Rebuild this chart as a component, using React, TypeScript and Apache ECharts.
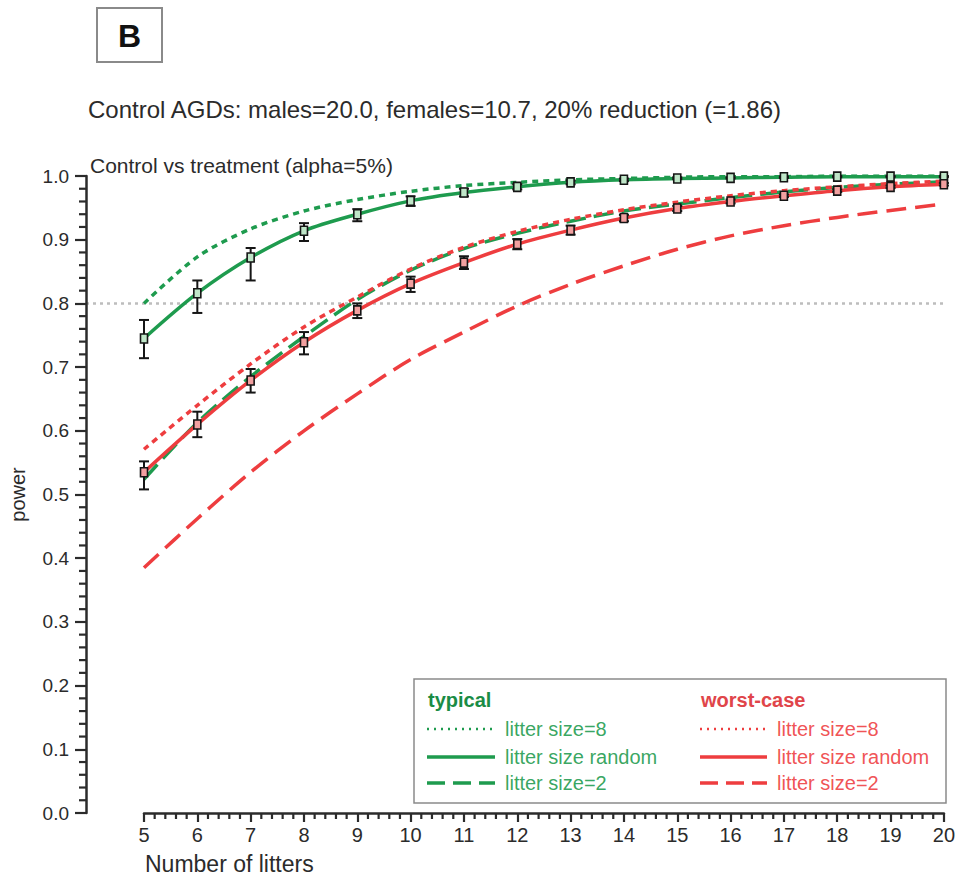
import React, { useEffect, useRef } from "react";
import * as echarts from "echarts";

const litters = [5, 6, 7, 8, 9, 10, 11, 12, 13, 14, 15, 16, 17, 18, 19, 20];
const typicalSize8 = [0.800, 0.873, 0.917, 0.945, 0.963, 0.976, 0.985, 0.990, 0.994, 0.996, 0.998, 0.999, 0.999, 1.000, 1.000, 1.000];
const typicalRandom = [0.745, 0.816, 0.872, 0.914, 0.940, 0.961, 0.974, 0.983, 0.990, 0.994, 0.996, 0.997, 0.998, 0.999, 0.999, 0.999];
const typicalRandomLow = [0.714, 0.785, 0.836, 0.898, 0.929, 0.953, 0.968, 0.979, 0.987, 0.992, 0.995, 0.996, 0.997, 0.998, 0.998, 0.998];
const typicalRandomHigh = [0.774, 0.836, 0.887, 0.926, 0.948, 0.968, 0.980, 0.987, 0.993, 0.996, 0.998, 0.998, 0.999, 1.000, 1.000, 1.000];
const typicalSize2 = [0.524, 0.613, 0.685, 0.748, 0.806, 0.852, 0.886, 0.910, 0.929, 0.945, 0.956, 0.966, 0.975, 0.982, 0.987, 0.991];
const worstSize8 = [0.571, 0.640, 0.705, 0.763, 0.810, 0.854, 0.888, 0.913, 0.932, 0.947, 0.959, 0.969, 0.977, 0.983, 0.988, 0.992];
const worstRandom = [0.535, 0.610, 0.679, 0.739, 0.789, 0.831, 0.864, 0.893, 0.915, 0.934, 0.949, 0.960, 0.969, 0.977, 0.983, 0.987];
const worstRandomLow = [0.508, 0.590, 0.660, 0.720, 0.777, 0.818, 0.854, 0.885, 0.908, 0.929, 0.945, 0.957, 0.967, 0.975, 0.981, 0.985];
const worstRandomHigh = [0.552, 0.630, 0.697, 0.755, 0.800, 0.842, 0.874, 0.901, 0.922, 0.939, 0.953, 0.963, 0.971, 0.979, 0.985, 0.989];
const worstSize2 = [0.385, 0.462, 0.535, 0.600, 0.658, 0.712, 0.755, 0.796, 0.830, 0.859, 0.885, 0.906, 0.922, 0.935, 0.946, 0.956];
const threshold = 0.8;

const yMajorStep = 0.1;
const yMinorPerMajor = 5;
const xMinorPerMajor = 5;

const panelLabel = "B";
const mainTitle = "Control AGDs: males=20.0, females=10.7, 20% reduction (=1.86)";
const subTitle = "Control vs treatment (alpha=5%)";
const xName = "Number of litters";
const yName = "power";
const legendHeaders = ["typical", "worst-case"];
const legendLabels = ["litter size=8", "litter size random", "litter size=2"];

const GREEN = "#1e9b4e";
const RED = "#ee3d3f";
const AXIS = "#2b2b2b";
const FONT = "'Liberation Sans', Arial, sans-serif";

const pairs = (ys: number[]) => litters.map((x, i) => [x, ys[i]]);
const bars = (ys: number[], lo: number[], hi: number[]) =>
  litters.map((x, i) => [x, ys[i], lo[i], hi[i]]);

// minor tick positions (axis structure, between the major ticks)
const yMinorTicks: number[] = [];
for (let m = 0; m < 10; m++) {
  for (let k = 1; k < yMinorPerMajor; k++) yMinorTicks.push(+(m * yMajorStep + (k * yMajorStep) / yMinorPerMajor).toFixed(4));
}
const xMinorTicks: number[] = [];
for (let m = 0; m < litters.length - 1; m++) {
  for (let k = 1; k < xMinorPerMajor; k++) xMinorTicks.push(+(litters[m] + k / xMinorPerMajor).toFixed(4));
}

function errorRender(fill: string) {
  return (params: any, api: any) => {
    const x = api.value(0);
    const p = api.coord([x, api.value(1)]);
    const pl = api.coord([x, api.value(2)]);
    const ph = api.coord([x, api.value(3)]);
    const cap = 5;
    const st = { stroke: "#151515", lineWidth: 2 };
    return {
      type: "group",
      children: [
        { type: "line", shape: { x1: p[0], y1: ph[1], x2: p[0], y2: pl[1] }, style: st },
        { type: "line", shape: { x1: p[0] - cap, y1: ph[1], x2: p[0] + cap, y2: ph[1] }, style: st },
        { type: "line", shape: { x1: p[0] - cap, y1: pl[1], x2: p[0] + cap, y2: pl[1] }, style: st },
        {
          type: "rect",
          shape: { x: p[0] - 3.5, y: p[1] - 4.5, width: 7, height: 9 },
          style: { fill, stroke: "#151515", lineWidth: 1.6 },
        },
      ],
    };
  };
}

function lineSeries(name: string, ys: number[], color: string, type: any) {
  return {
    name,
    type: "line",
    xAxisIndex: 1,
    yAxisIndex: 1,
    data: pairs(ys),
    symbol: "none",
    smooth: 0.3,
    lineStyle: { color, width: 3.5, type },
    z: 3,
  };
}

function legendGraphics() {
  const els: any[] = [];
  els.push({
    type: "rect",
    z: 100,
    shape: { x: 414, y: 679, width: 532, height: 124 },
    style: { fill: "#ffffff", stroke: "#8a8a8a", lineWidth: 1.5 },
  });
  const cols = [
    { x0: 427, x1: 495, tx: 505, color: GREEN, hc: "#1a8c45" },
    { x0: 700, x1: 767, tx: 777, color: RED, hc: "#e0454a" },
  ];
  const rows = [729, 757, 783];
  const dashes: any[] = [[2, 5], "solid", [18, 8]];
  const widths = [2.5, 3.5, 3.5];
  cols.forEach((c, ci) => {
    els.push({
      type: "text",
      z: 101,
      x: c.x0 + 1,
      y: 700,
      style: {
        text: legendHeaders[ci],
        fill: c.hc,
        font: `bold 20px ${FONT}`,
        align: "left",
        verticalAlign: "middle",
      },
    });
    rows.forEach((ry, ri) => {
      els.push({
        type: "line",
        z: 101,
        shape: { x1: c.x0, y1: ry, x2: c.x1, y2: ry },
        style: { stroke: c.color, lineWidth: widths[ri], lineDash: dashes[ri] === "solid" ? null : dashes[ri] },
      });
      els.push({
        type: "text",
        z: 101,
        x: c.tx,
        y: ry,
        style: {
          text: legendLabels[ri],
          fill: c.color,
          font: `20px ${FONT}`,
          align: "left",
          verticalAlign: "middle",
          opacity: 0.9,
        },
      });
    });
  });
  return els;
}

export default function App() {
  const ref = useRef<HTMLDivElement>(null);
  useEffect(() => {
    if (!ref.current) return;
    const chart = echarts.init(ref.current, null, { renderer: "svg" });
    const option: any = {
      animation: false,
      backgroundColor: "#ffffff",
      textStyle: { fontFamily: FONT },
      grid: [
        { left: 86, right: 12, top: 176, height: 637 },
        { left: 144, right: 12, top: 176, height: 637 },
      ],
      xAxis: [
        { gridIndex: 0, type: "value", min: 0, max: 1, show: false },
        {
          gridIndex: 1,
          type: "value",
          min: 5,
          max: 20,
          interval: 1,
          z: 4,
          axisLine: { onZero: false, lineStyle: { color: AXIS, width: 2.5 } },
          axisTick: { length: 9, lineStyle: { color: AXIS, width: 2.2 } },
          splitLine: { show: false },
          axisLabel: { fontSize: 20, color: AXIS, margin: 12, fontFamily: FONT },
        },
      ],
      yAxis: [
        {
          gridIndex: 0,
          type: "value",
          min: 0,
          max: 1,
          interval: yMajorStep,
          z: 4,
          name: yName,
          nameLocation: "middle",
          nameGap: 58,
          nameTextStyle: { fontSize: 20, color: AXIS, fontFamily: FONT },
          axisLine: { show: true, lineStyle: { color: AXIS, width: 2.5 } },
          axisTick: { show: true, length: 11, lineStyle: { color: AXIS, width: 2.2 } },
          splitLine: { show: false },
          axisLabel: {
            fontSize: 19,
            color: AXIS,
            margin: 17,
            fontFamily: FONT,
            formatter: (v: number) => v.toFixed(1),
          },
        },
        { gridIndex: 1, type: "value", min: 0, max: 1, show: false },
      ],
      series: [
        {
          name: "threshold",
          type: "line",
          xAxisIndex: 0,
          yAxisIndex: 0,
          data: [[0, threshold], [1, threshold]],
          symbol: "none",
          lineStyle: { color: "#bdbdbd", width: 2.5, type: [3, 4] },
          z: 1,
        },
        {
          name: "y minor ticks",
          type: "custom",
          xAxisIndex: 0,
          yAxisIndex: 0,
          clip: false,
          silent: true,
          data: yMinorTicks.map((v) => [0, v]),
          encode: { x: 0, y: 1 },
          renderItem: (params: any, api: any) => {
            const p = api.coord([api.value(0), api.value(1)]);
            return {
              type: "rect",
              shape: { x: p[0] - 7, y: p[1] - 1.1, width: 7, height: 2.2 },
              style: { fill: AXIS },
            };
          },
          z: 6,
        },
        {
          name: "x minor ticks",
          type: "custom",
          xAxisIndex: 1,
          yAxisIndex: 1,
          clip: false,
          silent: true,
          data: xMinorTicks.map((v) => [v, 0]),
          encode: { x: 0, y: 1 },
          renderItem: (params: any, api: any) => {
            const p = api.coord([api.value(0), api.value(1)]);
            return {
              type: "rect",
              shape: { x: p[0] - 1.1, y: p[1], width: 2.2, height: 6 },
              style: { fill: AXIS },
            };
          },
          z: 6,
        },
        lineSeries("worst litter size=2", worstSize2, RED, [20, 9]),
        lineSeries("typical litter size=2", typicalSize2, GREEN, [20, 8]),
        lineSeries("worst litter size=8", worstSize8, RED, [6, 5]),
        lineSeries("typical litter size=8", typicalSize8, GREEN, [6, 5]),
        lineSeries("worst litter size random", worstRandom, RED, "solid"),
        lineSeries("typical litter size random", typicalRandom, GREEN, "solid"),
        {
          name: "typical error",
          type: "custom",
          xAxisIndex: 1,
          yAxisIndex: 1,
          data: bars(typicalRandom, typicalRandomLow, typicalRandomHigh),
          encode: { x: 0, y: [1, 2, 3] },
          renderItem: errorRender("#bfe6c8"),
          z: 5,
        },
        {
          name: "worst error",
          type: "custom",
          xAxisIndex: 1,
          yAxisIndex: 1,
          data: bars(worstRandom, worstRandomLow, worstRandomHigh),
          encode: { x: 0, y: [1, 2, 3] },
          renderItem: errorRender("#f2a0a0"),
          z: 5,
        },
      ],
      graphic: [
        {
          type: "rect",
          shape: { x: 97, y: 8, width: 65, height: 54 },
          style: { fill: "#ffffff", stroke: "#8a8a8a", lineWidth: 2 },
        },
        {
          type: "text",
          x: 129.5,
          y: 36,
          style: { text: panelLabel, fill: "#111111", font: `bold 32px ${FONT}`, align: "center", verticalAlign: "middle" },
        },
        {
          type: "text",
          x: 88,
          y: 109,
          style: { text: mainTitle, fill: AXIS, font: `24px ${FONT}`, align: "left", verticalAlign: "middle" },
        },
        {
          type: "text",
          x: 90,
          y: 165,
          style: { text: subTitle, fill: AXIS, font: `21px ${FONT}`, align: "left", verticalAlign: "middle" },
        },
        {
          type: "text",
          x: 145,
          y: 864,
          style: { text: xName, fill: AXIS, font: `23px ${FONT}`, align: "left", verticalAlign: "middle" },
        },
        ...legendGraphics(),
      ],
    };
    chart.setOption(option);
    return () => chart.dispose();
  }, []);
  return (
    <div
      ref={ref}
      style={{ position: "absolute", left: 0, top: 0, width: 958, height: 876, background: "#fff" }}
    />
  );
}
